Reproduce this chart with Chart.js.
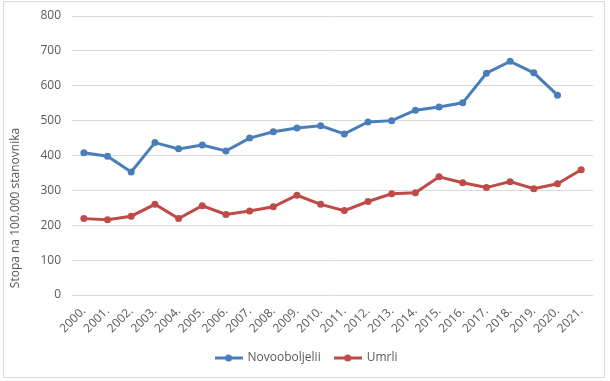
<!DOCTYPE html>
<html>
<head>
<meta charset="utf-8">
<script src="https://cdn.jsdelivr.net/npm/chart.js@4/dist/chart.umd.min.js"></script>
<style>
  html, body { margin: 0; padding: 0; background: #ffffff; }
  #wrap { position: relative; width: 610px; height: 381px; }
  #frame { position: absolute; left: 3px; top: 1px; width: 600px; height: 375px; border: 1px solid #d9d9d9; pointer-events: none; }
  canvas { position: absolute; left: 0; top: 0; }
</style>
</head>
<body>
<div id="wrap">
  <canvas id="c" width="610" height="381"></canvas>
  <div id="frame"></div>
</div>
<script>
const years = ["2000.", "2001.", "2002.", "2003.", "2004.", "2005.", "2006.", "2007.", "2008.", "2009.", "2010.",
               "2011.", "2012.", "2013.", "2014.", "2015.", "2016.", "2017.", "2018.", "2019.", "2020.", "2021."];
const novooboljeli = [408, 398, 353, 437, 419, 430, 413, 450, 468, 479, 485,
                      462, 496, 500, 530, 539, 551, 636, 670, 637, 573, null];
const umrli = [219, 216, 226, 260, 219, 256, 231, 241, 253, 286, 260,
               242, 268, 290, 293, 339, 322, 308, 325, 305, 319, 359];
const seriesNames = ["Novooboljelii", "Umrli"];
const yTitle = "Stopa na 100.000 stanovnika";

const BLUE = "#4A7EBB";
const RED = "#BE4B48";
const TEXT = "#595959";
const FONT = "'Open Sans', 'Liberation Sans', sans-serif";

function legendIcon(color) {
  const cv = document.createElement("canvas");
  cv.width = 28; cv.height = 8;
  const g = cv.getContext("2d");
  g.strokeStyle = color; g.lineWidth = 3;
  g.beginPath(); g.moveTo(0, 4); g.lineTo(28, 4); g.stroke();
  g.fillStyle = color;
  g.beginPath(); g.arc(14, 4, 3.5, 0, Math.PI * 2); g.fill();
  return cv;
}

const yTitlePlugin = {
  id: "yTitlePlugin",
  afterDraw(chart) {
    const ctx = chart.ctx;
    ctx.save();
    ctx.translate(16, 208);
    ctx.rotate(-Math.PI / 2);
    ctx.fillStyle = TEXT;
    ctx.font = "12px " + FONT;
    ctx.textAlign = "center";
    ctx.textBaseline = "middle";
    ctx.fillText(yTitle, 0, 0);
    ctx.restore();
  }
};

new Chart(document.getElementById("c"), {
  type: "line",
  data: {
    labels: years,
    datasets: [
      { label: seriesNames[0], data: novooboljeli, borderColor: BLUE, backgroundColor: BLUE,
        borderWidth: 3, pointRadius: 3.5, pointHoverRadius: 3.5, pointBackgroundColor: BLUE,
        pointBorderWidth: 0, pointStyle: "circle", tension: 0 },
      { label: seriesNames[1], data: umrli, borderColor: RED, backgroundColor: RED,
        borderWidth: 3, pointRadius: 3.5, pointHoverRadius: 3.5, pointBackgroundColor: RED,
        pointBorderWidth: 0, pointStyle: "circle", tension: 0 }
    ]
  },
  options: {
    responsive: false,
    animation: false,
    events: [],
    layout: { padding: { left: 20, top: 16, right: 17, bottom: 7 } },
    scales: {
      x: {
        offset: true,
        grid: { display: false, drawTicks: false },
        border: { display: false },
        ticks: { color: TEXT, font: { family: FONT, size: 12 }, minRotation: 45, maxRotation: 45, padding: 9, autoSkip: false },
        afterFit(scale) { scale.height = 43; }
      },
      y: {
        min: 0, max: 800,
        grid: { color: "#d9d9d9", lineWidth: 1, drawTicks: false },
        border: { display: false },
        ticks: { stepSize: 100, color: TEXT, font: { family: FONT, size: 12 }, padding: 11 },
        afterFit(scale) { scale.width = 52; scale.paddingTop = 0; scale.paddingBottom = 0; }
      }
    },
    plugins: {
      legend: {
        position: "bottom",
        labels: {
          color: TEXT, font: { family: FONT, size: 12 },
          usePointStyle: true, pointStyleWidth: 26, padding: 14,
          generateLabels(chart) {
            return chart.data.datasets.map((ds, i) => ({
              text: ds.label, fillStyle: ds.borderColor, strokeStyle: ds.borderColor,
              lineWidth: 0, pointStyle: legendIcon(ds.borderColor), datasetIndex: i, hidden: false,
              fontColor: TEXT
            }));
          }
        }
      },
      tooltip: { enabled: false }
    }
  },
  plugins: [yTitlePlugin]
});
</script>
</body>
</html>
